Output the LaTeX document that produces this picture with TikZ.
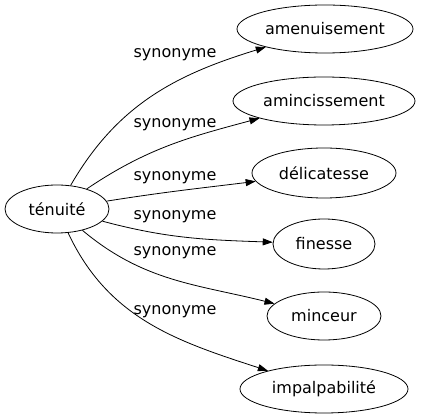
\documentclass[tikz,border=0pt]{standalone}
\usepackage{fontspec}
\setmainfont{DejaVu Sans}
\usetikzlibrary{shapes.geometric,arrows.meta}
\tikzset{
  parola/.style={draw, ellipse, inner sep=0pt, line width=0.8pt, font=\fontsize{16}{19}\selectfont},
  etichetta/.style={inner sep=0pt, font=\fontsize{16}{19}\selectfont},
  arco/.style={-{Triangle[length=10pt,width=7pt]}, line width=0.8pt}
}
\begin{document}
\begin{tikzpicture}[x=1pt,y=1pt]
  \useasboundingbox (0,0) rectangle (421,-419);
  %nodi
  \node[parola, minimum width=104pt, minimum height=48pt] (tenuite) at (57,-209) {ténuité};
  \node[parola, minimum width=176pt, minimum height=48pt] (amenuisement) at (325,-29) {amenuisement};
  \node[parola, minimum width=182pt, minimum height=48pt] (amincissement) at (324,-101) {amincissement};
  \node[parola, minimum width=144pt, minimum height=50pt] (delicatesse) at (324,-173) {délicatesse};
  \node[parola, minimum width=102pt, minimum height=50pt] (finesse) at (324,-244) {finesse};
  \node[parola, minimum width=114pt, minimum height=48pt] (minceur) at (324,-316) {minceur};
  \node[parola, minimum width=168pt, minimum height=48pt] (impalpabilite) at (324,-389) {impalpabilité};
  %archi
  \draw[arco] (tenuite) to[out=60,in=197] (amenuisement);
  \draw[arco] (tenuite) to[out=34,in=195] (amincissement);
  \draw[arco] (tenuite) to[out=9,in=187] (delicatesse);
  \draw[arco] (tenuite) to[out=-15,in=178] (finesse);
  \draw[arco] (tenuite) to[out=-40,in=166] (minceur);
  \draw[arco] (tenuite) to[out=-65,in=162] (impalpabilite);
  %etichette
  \node[etichetta] (syn1) at (175,-55) {synonyme};
  \node[etichetta] (syn2) at (175,-125) {synonyme};
  \node[etichetta] (syn3) at (175,-178) {synonyme};
  \node[etichetta] (syn4) at (175,-217) {synonyme};
  \node[etichetta] (syn5) at (175,-253) {synonyme};
  \node[etichetta] (syn6) at (175,-312) {synonyme};
\end{tikzpicture}
\end{document}
